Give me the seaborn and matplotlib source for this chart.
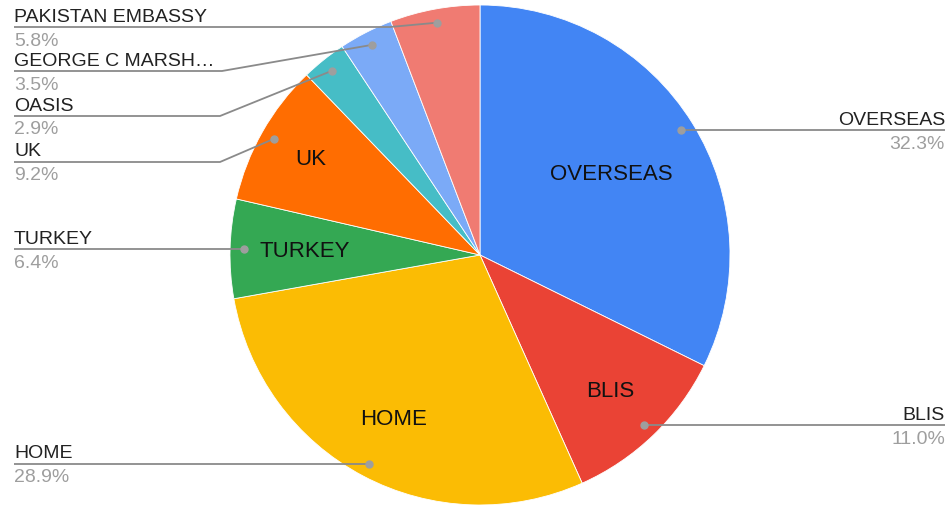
import numpy as np
import matplotlib
matplotlib.use("Agg")
import matplotlib.pyplot as plt
import seaborn as sns

# data, clockwise from 12 o'clock
labels = ["OVERSEAS", "BLIS", "HOME", "TURKEY", "UK", "OASIS",
          "GEORGE C MARSH\u2026", "PAKISTAN EMBASSY"]
shares = [32.3, 11.0, 28.9, 6.4, 9.2, 2.9, 3.5, 5.8]
colors = ["#4285F4", "#EA4335", "#FBBC04", "#34A853", "#FF6D01",
          "#46BDC6", "#7BAAF7", "#F07B72"]
inside = ["OVERSEAS", "BLIS", "HOME", "TURKEY", "UK"]

W, H = 948, 506
sns.set_theme(style="white")
plt.rcParams["font.family"] = ["Liberation Sans", "DejaVu Sans"]

fig = plt.figure(figsize=(W / 100, H / 100), dpi=100)
ax = fig.add_axes([0, 0, 1, 1])

cx, cy, R = 480, 250, 250
ax.pie(shares, colors=sns.color_palette(colors), startangle=90,
       counterclock=False, center=(cx, cy), radius=R,
       wedgeprops=dict(edgecolor="white", linewidth=0.6))
ax.set_xlim(0, W)
ax.set_ylim(0, H)
ax.set_aspect("equal")
ax.axis("off")

frac = np.array(shares) / sum(shares)
mid = 90 - (np.cumsum(frac) - frac / 2) * 360  # degrees, math convention

# inside label radius (fraction of R)
inner_r = {"OVERSEAS": 0.62, "BLIS": 0.75, "HOME": 0.74, "TURKEY": 0.70, "UK": 0.78}
for lab, a in zip(labels, mid):
    if lab in inside:
        r = inner_r[lab] * R
        ax.text(cx + r * np.cos(np.radians(a)), cy + r * np.sin(np.radians(a)),
                lab, ha="center", va="center", fontsize=16, color="#111111")

# outside callouts: (line y in image px, elbow x or None, side)
callout = {
    "OVERSEAS": (130, None, "right"),
    "BLIS": (427, None, "right"),
    "HOME": (464, None, "left"),
    "TURKEY": (249, None, "left"),
    "UK": (163, 220, "left"),
    "OASIS": (117, 220, "left"),
    "GEORGE C MARSH\u2026": (72, 222, "left"),
    "PAKISTAN EMBASSY": (28, 390, "left"),
}
for lab, a, s in zip(labels, mid, shares):
    ly_img, ex, side = callout[lab]
    dr = 0.945 * R
    dx = cx + dr * np.cos(np.radians(a))
    dy = cy + dr * np.sin(np.radians(a))
    ly = H - ly_img
    if ex is None:
        ly = dy
        xs, ys = [dx, 945 if side == "right" else 14], [dy, dy]
    else:
        xs, ys = [dx, ex, 14], [dy, ly, ly]
    tx, ha = (945, "right") if side == "right" else (14, "left")
    ax.plot(xs, ys, color="#8a8a8a", lw=1.3, solid_capstyle="butt", zorder=3)
    ax.plot([dx], [dy], "o", color="#9e9e9e", ms=5, zorder=4)
    ax.text(tx, ly + 6.5, lab, ha=ha, va="baseline", fontsize=14, color="#222222")
    ax.text(tx, ly - 17.5, f"{s:.1f}%", ha=ha, va="baseline", fontsize=14,
            color="#9e9e9e")

fig.savefig("out.png", dpi=100, facecolor="white")
